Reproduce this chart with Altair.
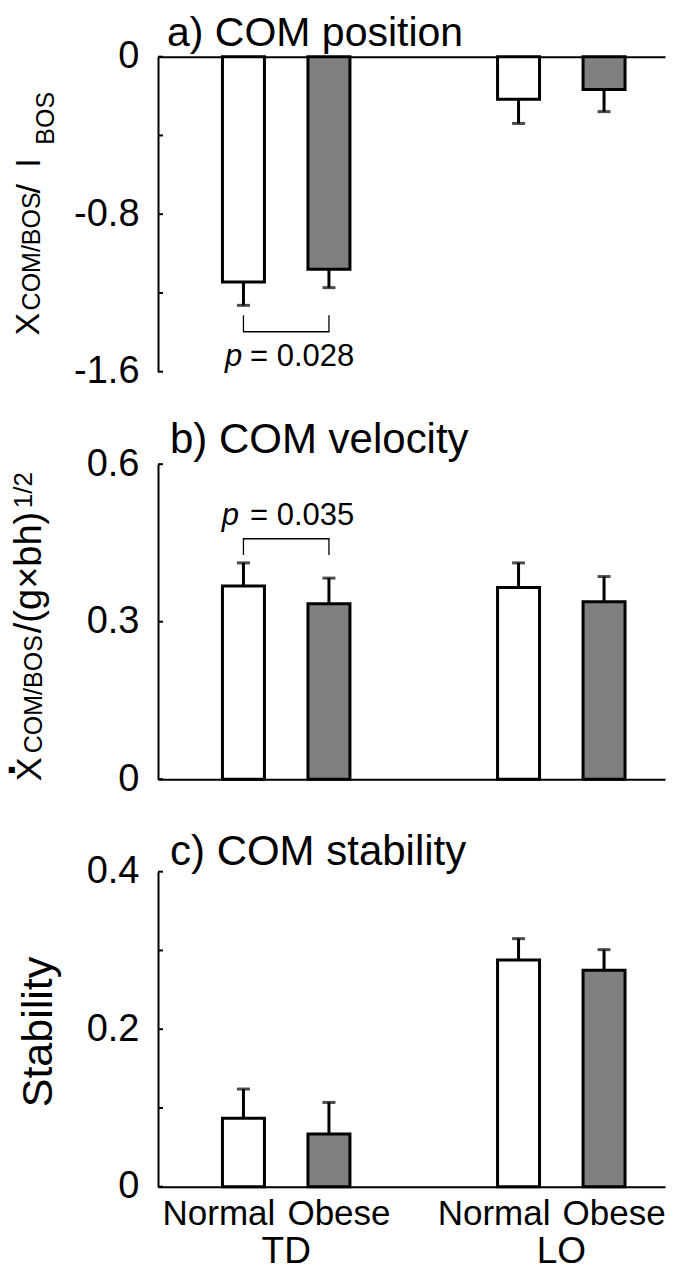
import altair as alt
import pandas as pd

# ---------------- data ----------------
groups = ["TD", "TD", "LO", "LO"]
statuses = ["Normal", "Obese", "Normal", "Obese"]

position_mean = [-1.144, -1.080, -0.216, -0.166]
position_sd = [0.119, 0.093, 0.123, 0.113]

velocity_mean = [0.368, 0.334, 0.365, 0.338]
velocity_sd = [0.044, 0.049, 0.047, 0.048]

stability_mean = [0.087, 0.067, 0.288, 0.275]
stability_sd = [0.037, 0.040, 0.027, 0.026]

position_ticks = [0, -0.4, -0.8, -1.2, -1.6]
position_labels = [0, -0.8, -1.6]
velocity_ticks = [0, 0.3, 0.6]
velocity_labels = [0, 0.3, 0.6]
stability_ticks = [0, 0.1, 0.2, 0.3, 0.4]
stability_labels = [0, 0.2, 0.4]

# significance brackets (TD Normal vs TD Obese)
bracket_a_level, bracket_a_leg, p_a = -1.397, -1.313, "= 0.028"
bracket_b_level, bracket_b_leg, p_b = 0.458, 0.427, "= 0.035"

FONT = "Liberation Sans"
W, H = 507, 315

xscale = alt.Scale(domain=["TD", "LO"], paddingInner=0.24609, paddingOuter=0.04453, align=1)
offscale = alt.Scale(domain=["Normal", "Obese"], paddingInner=0.509, paddingOuter=0.46735)
fillscale = alt.Scale(domain=["Normal", "Obese"], range=["#ffffff", "#808080"])


def frame(mean, sd):
    df = pd.DataFrame({"group": groups, "status": statuses, "mean": mean, "sd": sd})
    sign = df["mean"].apply(lambda v: -1 if v < 0 else 1)
    df["end"] = df["mean"] + sign * df["sd"]
    return df


def bracket_frame(level, leg):
    return pd.DataFrame({
        "group": ["TD"] * 4,
        "status": ["Normal", "Normal", "Obese", "Obese"],
        "v": [leg, level, level, leg],
        "o": [0, 1, 2, 3],
    })


def txt(s, x, y, size, angle=0, align="left", style="normal", weight="normal",
        font=FONT, baseline="alphabetic"):
    return alt.Chart(pd.DataFrame({"t": [s]})).mark_text(
        font=font, fontSize=size, angle=angle, align=align, baseline=baseline,
        fontStyle=style, fontWeight=weight, color="black"
    ).encode(x=alt.value(x), y=alt.value(y), text="t:N")


def panel(df, ydom, tick_vals, label_vals, x_orient, extras, bracket=None):
    yscale = alt.Scale(domain=ydom, nice=False, zero=False)
    xenc = alt.X("group:N", scale=xscale, title=None,
                 axis=alt.Axis(orient=x_orient, labels=False, ticks=False, domain=True,
                               domainColor="black", domainWidth=2, grid=False, title=None))
    off = alt.XOffset("status:N", scale=offscale)
    yaxis = alt.Axis(values=label_vals, labelExpr="'' + datum.value", ticks=False, tickSize=0,
                     labelPadding=19, labelFont=FONT, labelFontSize=38, labelColor="black",
                     labelFlush=False, labelOverlap=False, domainColor="black", domainWidth=2,
                     grid=False, title=None)
    base = alt.Chart(df).encode(x=xenc, xOffset=off)
    bars = base.mark_bar(stroke="black", strokeWidth=3).encode(
        y=alt.Y("mean:Q", scale=yscale, axis=yaxis),
        fill=alt.Fill("status:N", scale=fillscale, legend=None))
    err = base.mark_rule(color="black", strokeWidth=3).encode(y=alt.Y("mean:Q"), y2="end:Q")
    cap = base.mark_tick(color="black", thickness=3, size=13).encode(y=alt.Y("end:Q"))
    ticks = alt.Chart(pd.DataFrame({"v": tick_vals})).mark_rule(color="black", strokeWidth=2).encode(
        y=alt.Y("v:Q", title=None), x=alt.value(0), x2=alt.value(5))
    layers = [bars, err, cap, ticks]
    if bracket is not None:
        layers.append(
            alt.Chart(bracket).mark_line(color="black", strokeWidth=1.3).encode(
                x=alt.X("group:N", scale=xscale, title=None), xOffset=off,
                y=alt.Y("v:Q", title=None), order="o:Q"))
    layers += extras
    return alt.layer(*layers).properties(width=W, height=H)


# ---------------- panel a ----------------
extras_a = [
    txt("a) COM position", 9, -10.5, 41),
    txt("X", -119, 278.7, 34, angle=270),
    txt("COM/BOS", -118, 253.7, 25, angle=270),
    txt("/", -118.5, 136.7, 34, angle=270),
    txt("l", -118.5, 110, 34, angle=270),
    txt("BOS", -104, 88, 25, angle=270),
    txt("p", 67, 309.4, 31, style="italic"),
    txt(p_a, 92, 309.4, 31),
]
pa = panel(frame(position_mean, position_sd), [-1.6, 0], position_ticks, position_labels,
           "top", extras_a, bracket_frame(bracket_a_level, bracket_a_leg))

# ---------------- panel b ----------------
extras_b = [
    txt("b) COM velocity", 12, -11, 42),
    txt("■", -150, 306, 8, font="DejaVu Sans", baseline="middle"),
    txt("X", -117, 317, 36, angle=270),
    txt("COM/BOS", -116, 289, 25, angle=270),
    txt("/(g×bh)", -117, 169, 38, angle=270),
    txt("1/2", -126, 44, 26, angle=270),
    txt("p", 63.7, 60.7, 31, style="italic"),
    txt(p_b, 92, 60.7, 31),
]
pb = panel(frame(velocity_mean, velocity_sd), [0, 0.6], velocity_ticks, velocity_labels,
           "bottom", extras_b, bracket_frame(bracket_b_level, bracket_b_leg))

# ---------------- panel c ----------------
df_c = frame(stability_mean, stability_sd)
cat_normal = alt.Chart(df_c).transform_filter(alt.datum.status == "Normal").mark_text(
    font=FONT, fontSize=35, baseline="alphabetic", dx=-24.5, color="black").encode(
    x=alt.X("group:N", scale=xscale, title=None), xOffset=alt.XOffset("status:N", scale=offscale),
    y=alt.value(353), text="status:N")
cat_obese = alt.Chart(df_c).transform_filter(alt.datum.status == "Obese").mark_text(
    font=FONT, fontSize=35, baseline="alphabetic", dx=10, color="black").encode(
    x=alt.X("group:N", scale=xscale, title=None), xOffset=alt.XOffset("status:N", scale=offscale),
    y=alt.value(353), text="status:N")
grp_lab = alt.Chart(pd.DataFrame({"group": ["TD", "LO"]})).mark_text(
    font=FONT, fontSize=37, baseline="alphabetic", color="black").encode(
    x=alt.X("group:N", scale=xscale, title=None), y=alt.value(391), text="group:N")
extras_c = [
    txt("c) COM stability", 12, -6.4, 42),
    txt("Stability", -106, 160.3, 43, angle=270, align="center"),
    cat_normal, cat_obese, grp_lab,
]
pc = panel(df_c, [0, 0.4], stability_ticks, stability_labels, "bottom", extras_c)

chart = alt.vconcat(pa, pb, pc, spacing=92.5, bounds="flush").properties(
    padding={"left": 0, "top": 4.7, "right": 0, "bottom": 1}
).configure_view(stroke=None).configure_axis(grid=False)

chart.save("out.html", embed_options={"renderer": "svg", "actions": False})
